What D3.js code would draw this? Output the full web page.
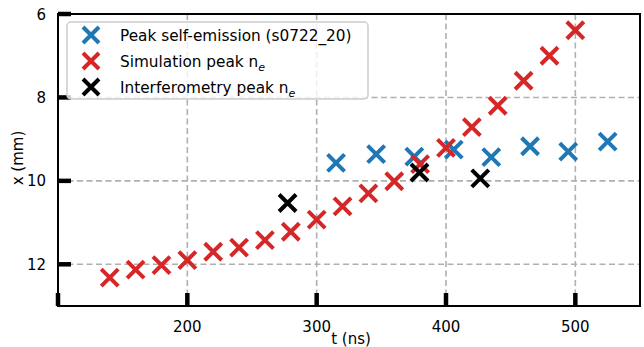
<!DOCTYPE html>
<html>
<head>
<meta charset="utf-8">
<script src="https://cdn.jsdelivr.net/npm/d3@7"></script>
<style>
  body { margin: 0; background: #fff; }
  text { font-family: "DejaVu Sans", sans-serif; }
</style>
</head>
<body>
<div id="chart"></div>
<script>
// data
const emissionT = [315, 346, 375.5, 406, 435, 465, 494.5, 525];
const emissionX = [9.57, 9.36, 9.42, 9.25, 9.43, 9.17, 9.30, 9.06];

const simT = [140, 160, 180, 200, 220, 240, 260, 280, 300, 320, 340, 360, 380, 400, 420, 440, 460, 480, 500];
const simX = [12.32, 12.13, 12.02, 11.90, 11.70, 11.60, 11.42, 11.22, 10.93, 10.61, 10.30, 10.01, 9.60, 9.21, 8.71, 8.20, 7.60, 7.00, 6.39];

const interT = [277.5, 379.5, 426.5];
const interX = [10.53, 9.80, 9.94];

const xTicks = [100, 200, 300, 400, 500];
const xTickLabels = ["", "200", "300", "400", "500"];
const yTicks = [6, 8, 10, 12];

const width = 644, height = 347;
const margin = { top: 14, right: 4, bottom: 41, left: 58 };

const svg = d3.select("#chart").append("svg")
    .attr("width", width)
    .attr("height", height);

const x = d3.scaleLinear().domain([100, 550]).range([margin.left, width - margin.right]);
const y = d3.scaleLinear().domain([6, 13]).range([margin.top, height - margin.bottom]);

const grid = svg.append("g").attr("stroke", "#b0b0b0").attr("stroke-width", 1.6)
    .attr("stroke-dasharray", "6,3.5");
grid.selectAll(".gx").data(xTicks.slice(1)).enter().append("line")
    .attr("x1", d => x(d)).attr("x2", d => x(d))
    .attr("y1", y(6)).attr("y2", y(13));
grid.selectAll(".gy").data(yTicks.slice(1)).enter().append("line")
    .attr("x1", x(100)).attr("x2", x(550))
    .attr("y1", d => y(d)).attr("y2", d => y(d));

// series as x markers
function drawSeries(ts, xs, color) {
    const s = 8.5;
    const g = svg.append("g").attr("stroke", color).attr("stroke-width", 4);
    ts.forEach((t, i) => {
        const cx = x(t), cy = y(xs[i]);
        g.append("path").attr("d", `M${cx - s},${cy - s}L${cx + s},${cy + s}M${cx - s},${cy + s}L${cx + s},${cy - s}`);
    });
}
drawSeries(emissionT, emissionX, "#1f77b4");
drawSeries(simT, simX, "#d62728");
drawSeries(interT, interX, "#000000");

// frame
svg.append("rect")
    .attr("x", x(100)).attr("y", y(6))
    .attr("width", x(550) - x(100)).attr("height", y(13) - y(6))
    .attr("fill", "none").attr("stroke", "#000").attr("stroke-width", 2);

// ticks (inward)
const tk = svg.append("g").attr("stroke", "#000").attr("stroke-width", 4.5);
xTicks.forEach(d => {
    tk.append("line").attr("x1", x(d)).attr("x2", x(d)).attr("y1", y(13)).attr("y2", y(13) - 13);
});
yTicks.forEach(d => {
    tk.append("line").attr("x1", x(100)).attr("x2", x(100) + 13).attr("y1", y(d)).attr("y2", y(d));
});

xTicks.forEach((d, i) => {
    svg.append("text").attr("x", x(d)).attr("y", 332)
        .attr("text-anchor", "middle").style("font-size", "15px").text(xTickLabels[i]);
});
yTicks.forEach(d => {
    svg.append("text").attr("x", 46).attr("y", y(d) + 5.5)
        .attr("text-anchor", "end").style("font-size", "15px").text(d);
});

svg.append("text").attr("x", 351).attr("y", 344)
    .attr("text-anchor", "middle").style("font-size", "15px").text("t (ns)");
svg.append("text").attr("transform", "translate(23,158) rotate(-90)")
    .attr("text-anchor", "middle").style("font-size", "15px").text("x (mm)");

// legend
const legend = svg.append("g");
legend.append("rect")
    .attr("x", 67).attr("y", 22).attr("width", 301).attr("height", 77)
    .attr("rx", 4).attr("fill", "#fff").attr("fill-opacity", 0.8)
    .attr("stroke", "#cccccc").attr("stroke-width", 1.5);
const items = [
    { color: "#1f77b4", label: "Peak self-emission (s0722_20)", sub: null },
    { color: "#d62728", label: "Simulation peak n", sub: "e" },
    { color: "#000000", label: "Interferometry peak n", sub: "e" }
];
items.forEach((it, i) => {
    const cy = 35 + i * 26, cx = 91, s = 8;
    legend.append("path")
        .attr("d", `M${cx - s},${cy - s}L${cx + s},${cy + s}M${cx - s},${cy + s}L${cx + s},${cy - s}`)
        .attr("stroke", it.color).attr("stroke-width", 4);
    const t = legend.append("text").attr("x", 120).attr("y", cy + 5.5).style("font-size", "15.3px").text(it.label);
    if (it.sub) {
        t.append("tspan").attr("dy", 4).style("font-size", "11px").style("font-style", "italic").text(it.sub);
    }
});
</script>
</body>
</html>
